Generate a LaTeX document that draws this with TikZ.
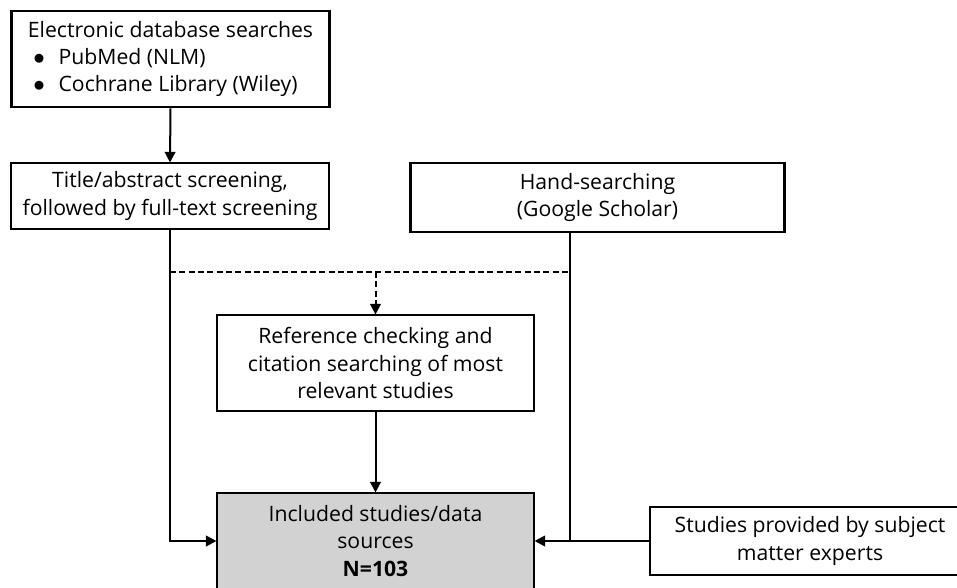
\documentclass[tikz,border=0pt]{standalone}
\usepackage{fontspec}
\setmainfont{Open Sans}
\usetikzlibrary{arrows.meta,positioning,calc}

\begin{document}
\begin{tikzpicture}[
  x=0.75pt, y=-0.75pt,
  box/.style={
    draw, rectangle, line width=0.8pt, inner sep=0pt,
    align=center, font=\fontsize{15.9}{20.3}\selectfont
  },
  thickbox/.style={box, line width=2.2pt},
  resultbox/.style={box, fill=gray!35},
  edge/.style={->, >={Triangle[length=8pt,width=8pt]}, line width=1.5pt},
  link/.style={line width=1.5pt},
  hint/.style={dash pattern=on 4.5pt off 2.5pt}
]
\clip (0,0) rectangle (957,587);

\node[thickbox, minimum width=239pt, minimum height=72pt, align=left] (search) at (170.5,59)
  {Electronic database searches\\
   \hspace*{4pt}\makebox[19pt][l]{$\bullet$}PubMed (NLM)\\
   \hspace*{4pt}\makebox[19pt][l]{$\bullet$}Cochrane Library (Wiley)};
\node[box, minimum width=238.5pt, minimum height=49.5pt] (screen) at (170,196)
  {Title/abstract screening,\\followed by full-text screening};
\node[thickbox, minimum width=280pt, minimum height=51.75pt] (hand) at (597.5,197.5)
  {Hand-searching\\(Google Scholar)};
\node[box, minimum width=237.75pt, minimum height=72pt] (refcheck) at (375.5,363)
  {Reference checking and\\citation searching of most\\relevant studies};
\node[resultbox, minimum width=237.75pt, minimum height=72pt] (included) at (375.5,541)
  {Included studies/data\\sources\\\textbf{N=103}};
\node[thickbox, minimum width=240pt, minimum height=51pt] (experts) at (810,541)
  {Studies provided by subject\\matter experts};

% helper points for the connectors
\coordinate (handdrop) at (570,0);
\coordinate (split) at (375.5,272);

\draw[edge] (search.south) -- (screen.north);
\draw[edge] (screen.south) |- (included.west);
\draw[hint, link] (screen.south |- split) -- (handdrop |- split);
\draw[edge, hint] (split) -- (refcheck.north);
\draw[edge] (refcheck.south) -- (included.north);
\draw[link] (handdrop |- hand.south) -- (handdrop |- included.east);
\draw[edge] (experts.west) -- (included.east);

\end{tikzpicture}
\end{document}
